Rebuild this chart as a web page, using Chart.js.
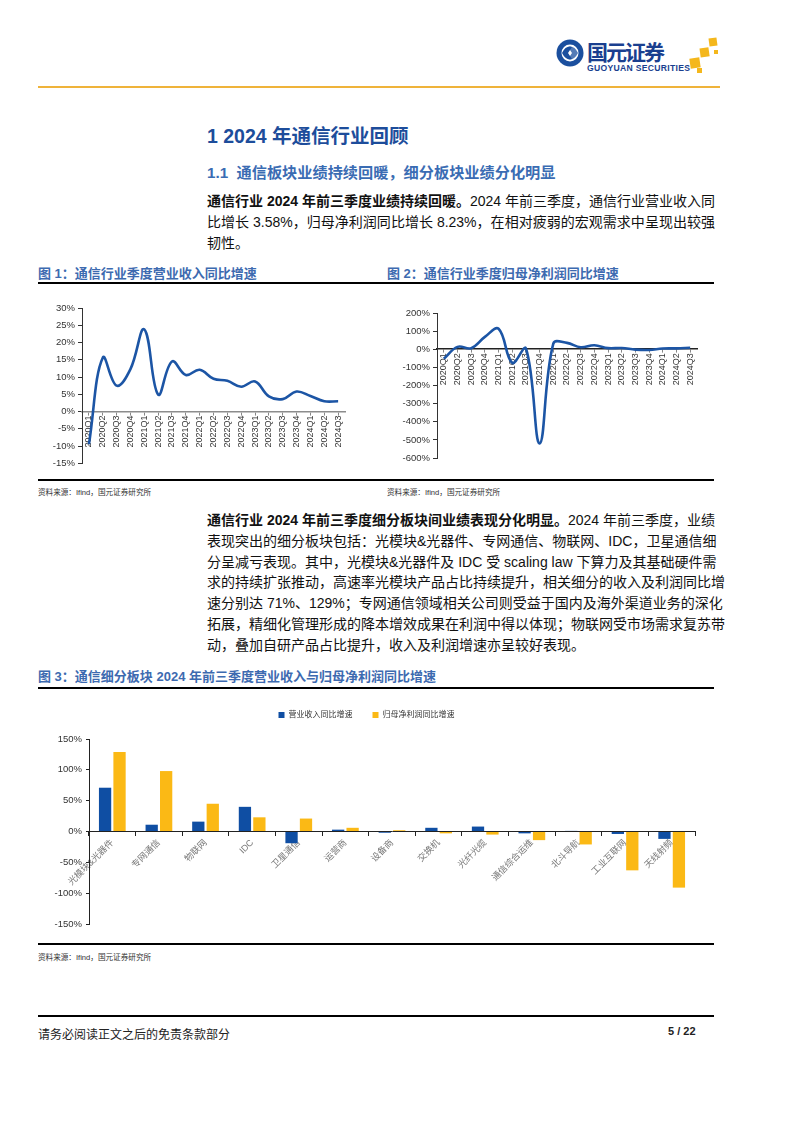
<!DOCTYPE html>
<html>
<head>
<meta charset="utf-8">
<script src="https://cdn.jsdelivr.net/npm/chart.js@4/dist/chart.umd.min.js"></script>
<style>
  body { margin: 0; width: 794px; height: 1123px; position: relative; background: #fff;
         font-family: "Liberation Sans", "Noto Sans CJK SC", sans-serif; color: #111; }
  .abs { position: absolute; }
  .rule { position: absolute; left: 38px; width: 676px; height: 2px; background: #000; }
  .h1 { left: 207px; top: 120px; font-size: 19.5px; font-weight: bold; color: #1d4d9b; }
  .h2 { left: 207px; top: 160px; font-size: 15.2px; font-weight: bold; color: #3a6cb3; }
  .para { left: 207px; width: 508px; font-size: 14px; line-height: 20.8px; }
  .jl { white-space: nowrap; text-align: justify; text-align-last: justify; }
  .figt { font-size: 13px; font-weight: bold; color: #3d6ab0; }
  .src { font-size: 7.6px; color: #333; }
  .box { position: absolute; }
</style>
</head>
<body>

<!-- header logo -->
<svg class="abs" style="left:550px;top:32px" width="175" height="46" viewBox="0 0 175 46">
  <circle cx="20" cy="21" r="13.5" fill="#1b4f9e"/>
  <circle cx="20" cy="21" r="8.5" fill="#fff"/>
  <path d="M12 21 Q16 13 22 15 L18 21 L22 27 Q16 29 12 21 Z" fill="#1b4f9e"/>
  <path d="M28 21 Q24 29 18 27 L22 21 L18 15 Q24 13 28 21 Z" fill="#1b4f9e" opacity="0.75"/>
  <text x="37" y="28" font-size="21" font-weight="bold" fill="#1a3f8f" font-family="Noto Sans CJK SC" textLength="78">国元证券</text>
  <text x="37" y="39" font-size="8.6" font-weight="bold" fill="#1a3f8f" font-family="Liberation Sans" textLength="103">GUOYUAN SECURITIES</text>
  <rect x="140" y="26" width="10" height="10" fill="#f4b71c" transform="rotate(-8 145 31)"/>
  <rect x="150" y="16" width="9" height="9" fill="#f4b71c" transform="rotate(-8 154 20)"/>
  <rect x="159" y="6" width="8" height="8" fill="#f4b71c" transform="rotate(-8 163 10)"/>
  <rect x="147" y="36" width="5" height="5" fill="#f4b71c"/>
  <rect x="164" y="18" width="4" height="4" fill="#f4b71c"/>
</svg>
<div class="abs" style="left:38px;top:86px;width:682px;height:2px;background:#efb33a"></div>

<div class="abs h1">1 2024 年通信行业回顾</div>
<div class="abs h2">1.1&nbsp; 通信板块业绩持续回暖，细分板块业绩分化明显</div>

<div class="abs para" style="top:191px">
  <div class="jl"><b>通信行业 2024 年前三季度业绩持续回暖。</b>2024 年前三季度，通信行业营业收入同</div>
  <div class="jl">比增长 3.58%，归母净利润同比增长 8.23%，在相对疲弱的宏观需求中呈现出较强</div>
  <div>韧性。</div>
</div>

<div class="abs figt" style="left:38px;top:263px">图 1：通信行业季度营业收入同比增速</div>
<div class="abs figt" style="left:387px;top:263px">图 2：通信行业季度归母净利润同比增速</div>
<div class="rule" style="top:282px"></div>

<div class="box" style="left:38px;top:295px;width:312px;height:177px"><canvas id="c1"></canvas></div>
<div class="box" style="left:387px;top:295px;width:325px;height:177px"><canvas id="c2"></canvas></div>

<div class="rule" style="top:479px;height:1.5px"></div>
<div class="abs src" style="left:38px;top:486px">资料来源：Ifind，国元证券研究所</div>
<div class="abs src" style="left:387px;top:486px">资料来源：Ifind，国元证券研究所</div>

<div class="abs para" style="top:510px">
  <div class="jl"><b>通信行业 2024 年前三季度细分板块间业绩表现分化明显。</b>2024 年前三季度，业绩</div>
  <div class="jl">表现突出的细分板块包括：光模块&amp;光器件、专网通信、物联网、IDC，卫星通信细</div>
  <div class="jl">分呈减亏表现。其中，光模块&amp;光器件及 IDC 受 scaling law 下算力及其基础硬件需</div>
  <div class="jl">求的持续扩张推动，高速率光模块产品占比持续提升，相关细分的收入及利润同比增</div>
  <div class="jl">速分别达 71%、129%；专网通信领域相关公司则受益于国内及海外渠道业务的深化</div>
  <div class="jl">拓展，精细化管理形成的降本增效成果在利润中得以体现；物联网受市场需求复苏带</div>
  <div>动，叠加自研产品占比提升，收入及利润增速亦呈较好表现。</div>
</div>

<div class="abs figt" style="left:38px;top:666px">图 3：通信细分板块 2024 年前三季度营业收入与归母净利润同比增速</div>
<div class="rule" style="top:687px"></div>

<div class="box" style="left:38px;top:691px;width:684px;height:252px"><canvas id="c3"></canvas></div>

<div class="rule" style="top:943px;height:1.5px"></div>
<div class="abs src" style="left:38px;top:951px">资料来源：Ifind，国元证券研究所</div>

<div class="rule" style="top:1015px"></div>
<div class="abs" style="left:38px;top:1025px;font-size:12px;color:#222">请务必阅读正文之后的免责条款部分</div>
<div class="abs" style="left:668px;top:1025px;font-size:11px;font-weight:bold;color:#222">5 / 22</div>

<script>
// quarterly data (%)
const quarters = ['2020Q1','2020Q2','2020Q3','2020Q4','2021Q1','2021Q2','2021Q3','2021Q4',
  '2022Q1','2022Q2','2022Q3','2022Q4','2023Q1','2023Q2','2023Q3','2023Q4','2024Q1','2024Q2','2024Q3'];
const revenueYoY = [-9.5, 15.6, 7.5, 12.3, 23.8, 4.9, 14.5, 10.6, 12.1, 9.5, 8.9, 7.2, 8.7, 4.4, 3.6, 5.8, 4.5, 3.0, 3.0];
const profitYoY = [-52, 13, 6, 68, 113, -75, 4, -520, 31, 35, 11, 22, 6, 7, -2, -4, 4, 5, 8];
const revTicks = { min: -15, max: 30, step: 5 };
const profitTicks = { min: -600, max: 200, step: 100 };

// segment data (2024 Q1-Q3 yoy, %)
const segments = ['光模块&光器件','专网通信','物联网','IDC','卫星通信','运营商','设备商','交换机',
  '光纤光缆','通信综合运维','北斗导航','工业互联网','天线射频'];
const segRevenue = [71, 11, 16, 40, -19, 3, -2, 6, 8, -3, 1, -4, -12];
const segProfit = [129, 98, 45, 23, 21, 6, 2, -3, -5, -14, -21, -63, -91];
const segTicks = { min: -150, max: 150, step: 50 };

const FONT = "'Liberation Sans','Noto Sans CJK SC',sans-serif";
const pct = v => v + '%';

function lineChart(id, data, t, yWidth, pad, zeroColor) {
    return new Chart(document.getElementById(id), {
        type: 'line',
        data: {
            labels: quarters,
            datasets: [{
                data: data,
                borderColor: '#1c55a5',
                borderWidth: 2.6,
                pointRadius: 0,
                tension: 0.4,
                fill: false
            }]
        },
        options: {
            responsive: true,
            maintainAspectRatio: false,
            animation: false,
            layout: { padding: pad },
            plugins: { legend: { display: false }, tooltip: { enabled: false } },
            scales: {
                x: {
                    position: { y: 0 },
                    offset: true,
                    grid: { drawOnChartArea: false, tickLength: 3, color: '#888' },
                    border: { color: zeroColor, width: 1.6 },
                    ticks: { minRotation: 90, maxRotation: 90, autoSkip: false, padding: 1,
                             font: { family: FONT, size: 9 }, color: '#333' }
                },
                y: {
                    min: t.min, max: t.max,
                    afterFit: s => { s.width = yWidth; },
                    grid: { drawOnChartArea: false, tickLength: 4, color: '#333' },
                    border: { color: '#333', width: 1 },
                    ticks: { stepSize: t.step, callback: pct, padding: 3,
                             font: { family: FONT, size: 9.5 }, color: '#333' }
                }
            }
        }
    });
}

lineChart('c1', revenueYoY, revTicks, 44, { top: 13, bottom: 8, right: 3 }, '#8c8c8c');
lineChart('c2', profitYoY, profitTicks, 50, { top: 18, bottom: 14, right: 15 }, '#222');

// extra gap under the legend of figure 3
const legendGap = {
    id: 'legendGap',
    beforeInit(chart) {
        const fit = chart.legend.fit;
        chart.legend.fit = function() {
            fit.call(this);
            this.height += 10;
        };
    }
};

new Chart(document.getElementById('c3'), {
    type: 'bar',
    data: {
        labels: segments,
        datasets: [
            { label: '营业收入同比增速', data: segRevenue, backgroundColor: '#0f4ea3',
              categoryPercentage: 0.62, barPercentage: 0.85 },
            { label: '归母净利润同比增速', data: segProfit, backgroundColor: '#fbb915',
              categoryPercentage: 0.62, barPercentage: 0.85 }
        ]
    },
    plugins: [legendGap],
    options: {
        responsive: true,
        maintainAspectRatio: false,
        animation: false,
        layout: { padding: { top: 0, bottom: 19, right: 27 } },
        plugins: {
            tooltip: { enabled: false },
            legend: {
                position: 'top',
                labels: { boxWidth: 6, boxHeight: 6, padding: 20, color: '#333',
                          font: { family: FONT, size: 8 } }
            }
        },
        scales: {
            x: {
                position: { y: 0 },
                grid: { drawOnChartArea: false, tickLength: 4, color: '#222', offset: true },
                border: { color: '#222', width: 1 },
                ticks: { minRotation: 45, maxRotation: 45, autoSkip: false, padding: 2,
                         font: { family: FONT, size: 9 }, color: '#777' }
            },
            y: {
                min: segTicks.min, max: segTicks.max,
                afterFit: s => { s.width = 51; },
                grid: { drawOnChartArea: false, tickLength: 3, color: '#222' },
                border: { color: '#222', width: 1 },
                ticks: { stepSize: segTicks.step, callback: pct, padding: 4,
                         font: { family: FONT, size: 9.5 }, color: '#333' }
            }
        }
    }
});
</script>
</body>
</html>
